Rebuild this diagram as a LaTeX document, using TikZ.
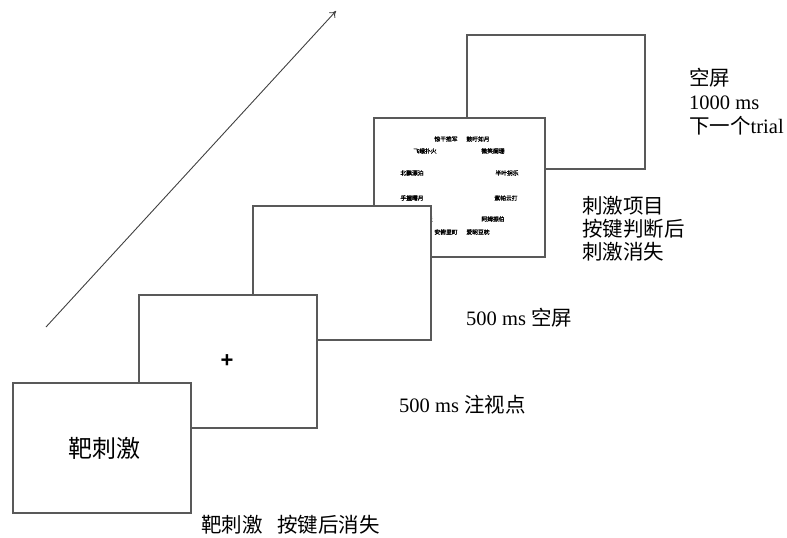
\documentclass[tikz,border=0pt]{standalone}
\usepackage{fontspec}
\setmainfont{Liberation Serif}
\newfontfamily\cjk{Noto Sans CJK SC}
\newfontfamily\cjkb[FakeBold=2]{Noto Sans CJK SC}
\newfontfamily\plusfont{Liberation Sans}
\usetikzlibrary{arrows.meta}
\begin{document}
\begin{tikzpicture}[x=1pt,y=-1pt,
  screen/.style={draw=black!65,line width=1.1pt,fill=white},
  lbl/.style={anchor=base west,inner sep=0pt,font=\fontsize{20.5}{24}\selectfont},
  word/.style={inner sep=0pt,font=\cjkb\fontsize{5.8}{6}\selectfont}]
\useasboundingbox (0,0) rectangle (787,538);
% time arrow
\coordinate (a0) at (46,327);
\coordinate (a1) at (336,11);
\draw[black!75,line width=0.9pt,-{To[length=6pt,width=8pt]}] (a0) -- (a1);
% screen 5
\draw[screen] (467,35) rectangle (645,169);
% screen 4
\draw[screen] (374,118) rectangle (545,257);
\node[word] (w1) at (446,139) {惊干推军};
\node[word] (w2) at (478,139) {鼓吁如月};
\node[word] (w3) at (425,151) {飞蛾扑火};
\node[word] (w4) at (493,151) {微笑阑珊};
\node[word] (w5) at (412,173) {北飘漂泊};
\node[word] (w6) at (507,173) {半叶拐乐};
\node[word] (w7) at (412,198) {手握曙月};
\node[word] (w8) at (506,198) {紫帕云打};
\node[word] (w9) at (421,219) {碧海蓝天};
\node[word] (w10) at (493,219) {阿姆振伯};
\node[word] (w11) at (446,232) {安俯里町};
\node[word] (w12) at (478,232) {爱昵豆枕};
% screen 3
\draw[screen] (253,206) rectangle (431,340);
% screen 2
\draw[screen] (139,295) rectangle (317,428);
\node[inner sep=0pt,font=\plusfont\bfseries\fontsize{22}{22}\selectfont] (plus) at (227,361) {+};
% screen 1
\draw[screen] (13,383) rectangle (191,513);
\node[inner sep=0pt,font=\cjk\fontsize{24}{28}\selectfont] (target) at (104,448) {靶刺激};
% labels
\node[lbl] (l1) at (201,532) {\cjk 靶刺激\hspace{0.7em}按键后消失};
\node[lbl] (l2) at (399,412) {500 ms {\cjk 注视点}};
\node[lbl] (l3) at (466,325) {500 ms {\cjk 空屏}};
\node[lbl] (l4a) at (582,213) {\cjk 刺激项目};
\node[lbl] (l4b) at (582,236) {\cjk 按键判断后};
\node[lbl] (l4c) at (582,259) {\cjk 刺激消失};
\node[lbl] (l5a) at (689,85) {\cjk 空屏};
\node[lbl] (l5b) at (689,109) {1000 ms};
\node[lbl] (l5c) at (689,133) {{\cjk 下一个}trial};
\end{tikzpicture}
\end{document}
